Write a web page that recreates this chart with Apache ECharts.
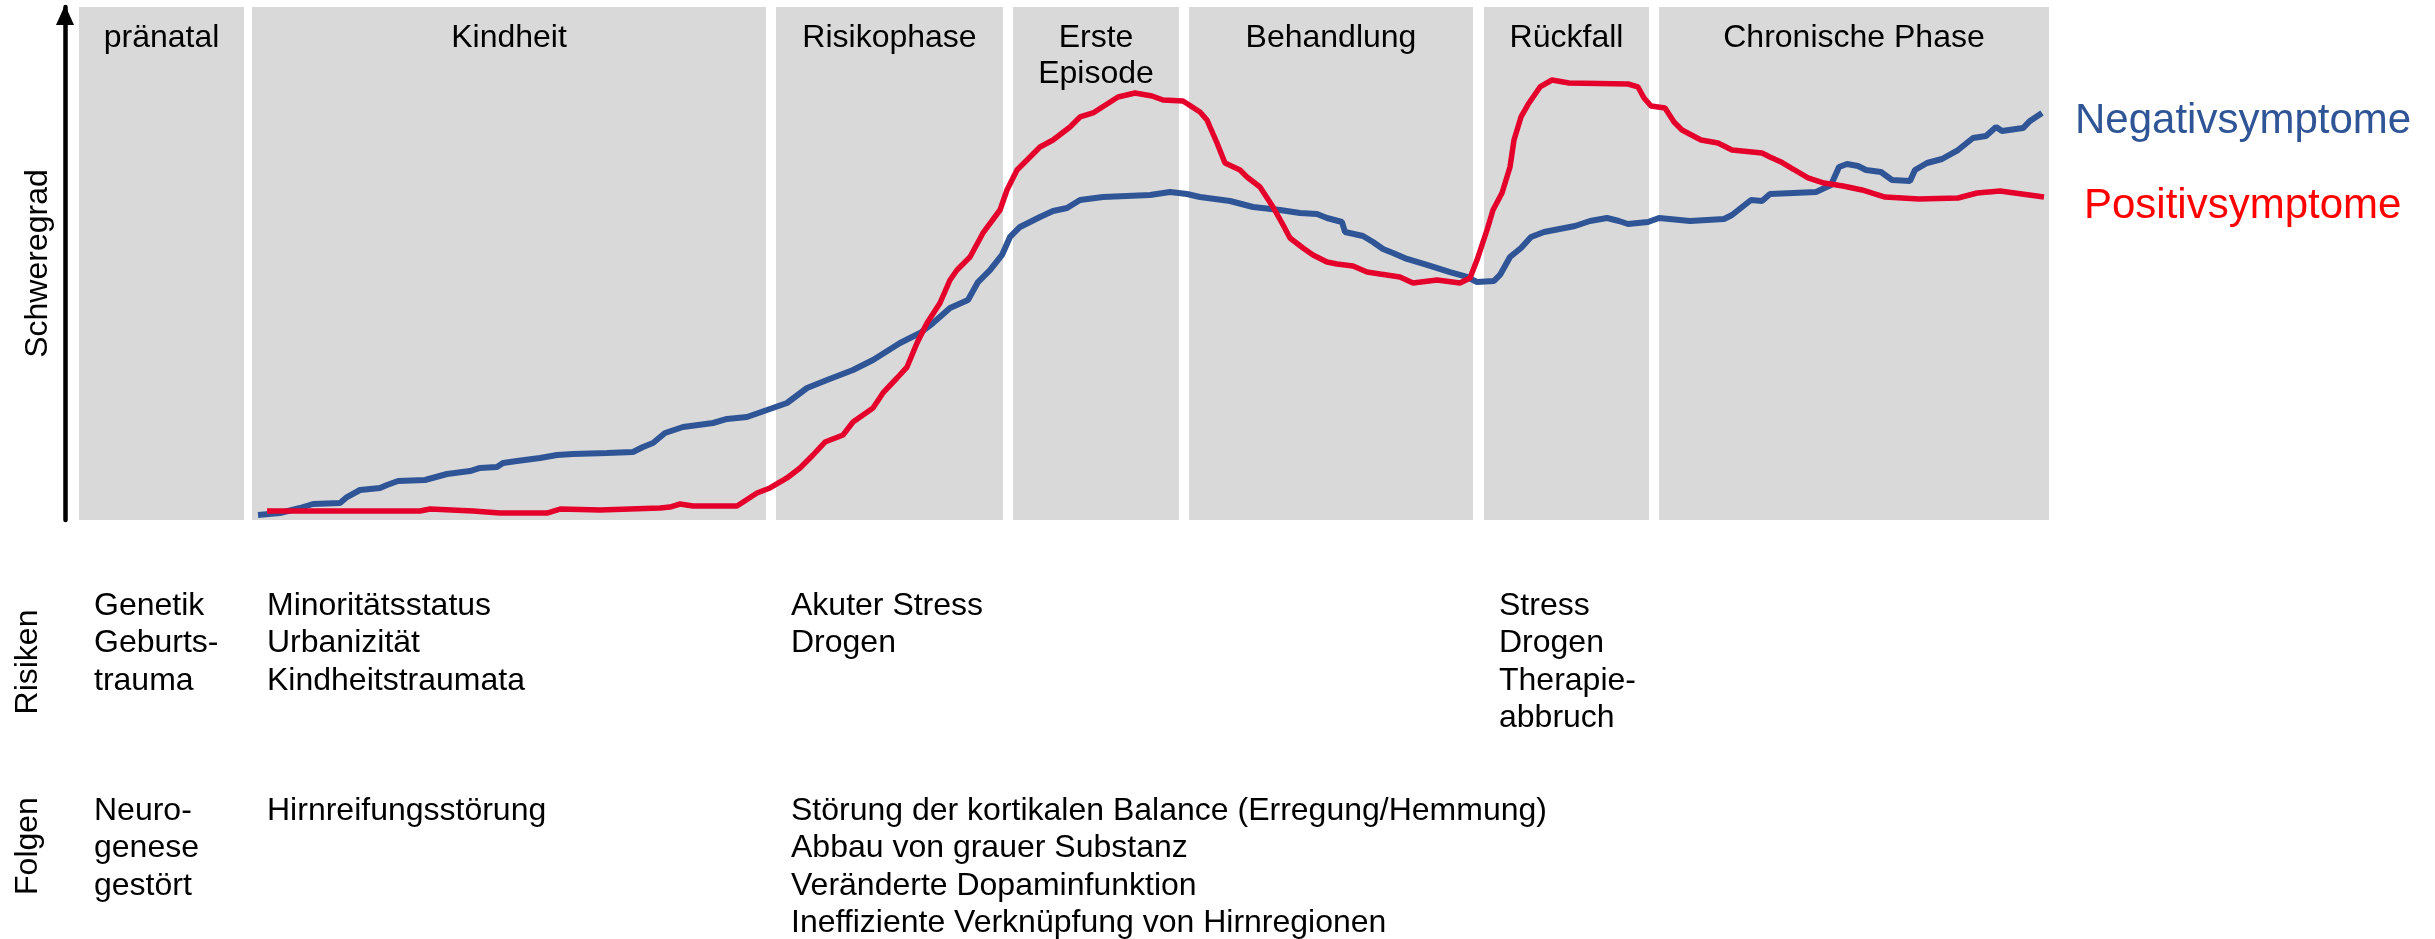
<!DOCTYPE html>
<html>
<head>
<meta charset="utf-8">
<script src="https://cdn.jsdelivr.net/npm/echarts@6/dist/echarts.min.js"></script>
<style>
html,body{margin:0;padding:0;background:#fff;}
#chart{width:2435px;height:939px;}
</style>
</head>
<body>
<div id="chart"></div>
<script>
// ---- data (time on a 0..197 scale, severity on a 0..100 scale) ----
const phases = ["pränatal", "Kindheit", "Risikophase", "Erste\nEpisode", "Behandlung", "Rückfall", "Chronische Phase"];
const phaseStart = [0, 17.3, 69.7, 93.4, 111, 140.5, 158];
const phaseEnd   = [16.5, 68.7, 92.4, 110, 139.4, 157, 197];

const negativ = [
 [17.9,0.97],[20.1,1.36],[22.1,2.34],[23.4,3.12],[26.1,3.31],[26.8,4.48],[28.1,5.85],[30.1,6.24],[30.8,6.82],[31.9,7.6],
 [34.6,7.8],[36.8,8.97],[39.1,9.55],[40.1,10.14],[41.8,10.33],[42.4,11.11],[43.8,11.5],[46.1,12.09],[47.8,12.67],[49.4,12.87],
 [52.8,13.06],[55.4,13.26],[56.4,14.23],[57.4,15.01],[58.6,16.96],[60.4,18.13],[63.4,18.91],[64.8,19.69],[66.8,20.08],[68.8,21.44],
 [70.8,22.81],[72.8,25.73],[74.8,27.29],[77.4,29.24],[79.4,31.19],[82.1,34.5],[84.1,36.45],[85.4,38.4],[87.1,41.33],[88.9,42.88],
 [89.9,46.39],[91.1,48.73],[92.3,51.66],[93.1,55.17],[94.1,57.12],[96.1,59.06],[97.4,60.23],[98.8,60.82],[100.1,62.38],[102.4,62.96],
 [107.1,63.35],[109.1,63.94],[110.8,63.55],[112.1,62.96],[115.1,62.18],[117.4,61.01],[120.1,60.43],[122.1,59.84],[123.8,59.65],[124.8,58.87],
 [126.3,58.09],[126.6,56.14],[128.4,55.36],[129.4,54.19],[130.4,52.83],[131.4,52.05],[132.8,50.88],[134.8,49.71],[137.1,48.34],[138.8,47.37],
 [139.8,46.39],[141.5,46.59],[142.1,47.76],[143.1,51.27],[144.2,53.02],[145.2,55.17],[146.5,56.14],[149.6,57.31],[151.1,58.28],[152.8,58.87],
 [154.0,58.28],[154.9,57.7],[156.9,58.09],[158.0,58.87],[161.1,58.28],[164.5,58.67],[165.3,59.45],[167.2,62.38],[168.3,62.18],[169.1,63.55],
 [173.7,63.94],[175.2,65.3],[176.0,68.81],[176.8,69.4],[177.9,69.01],[178.7,68.23],[180.2,67.84],[181.3,66.28],[183.1,66.08],[183.6,68.23],
 [184.8,69.59],[186.3,70.37],[187.9,72.12],[189.4,74.46],[190.7,74.85],[191.7,76.61],[192.3,75.83],[194.4,76.41],[195.1,77.78],[196.3,79.34]
];

const positiv = [
 [18.8,1.75],[34.1,1.75],[35.1,2.14],[39.4,1.75],[42.1,1.36],[46.8,1.36],[48.1,2.14],[52.1,1.95],[58.1,2.34],[59.1,2.53],
 [60.1,3.12],[61.4,2.73],[65.8,2.73],[67.8,5.26],[69.1,6.24],[70.8,8.19],[72.1,10.14],[73.4,12.67],[74.6,15.2],[76.4,16.57],
 [77.4,19.1],[79.4,21.83],[80.4,24.76],[81.8,27.68],[82.8,29.82],[83.8,34.5],[84.8,38.4],[86.1,42.3],[87.1,46.78],[87.8,48.73],
 [89.1,51.27],[90.4,55.95],[92.1,60.43],[92.8,64.33],[93.8,68.23],[96.1,72.71],[97.4,74.07],[99.1,76.61],[100.1,78.56],[101.4,79.34],
 [103.9,82.46],[105.6,83.24],[107.3,82.65],[108.4,81.87],[110.4,81.68],[112.1,79.53],[112.8,77.97],[113.8,73.49],[114.6,69.59],[116.1,68.23],
 [116.8,66.86],[118.1,64.91],[119.4,61.01],[120.3,57.89],[121.1,54.97],[122.4,53.02],[123.4,51.66],[124.8,50.29],[125.8,49.9],[127.4,49.51],
 [128.8,48.34],[130.1,47.95],[132.1,47.37],[133.4,46.2],[135.8,46.78],[138.1,46.2],[139.1,47.17],[139.8,50.68],[140.8,56.53],[141.4,60.43],
 [142.3,63.74],[143.1,68.81],[143.5,74.07],[144.2,78.56],[145.0,81.29],[146.1,84.41],[147.3,85.77],[149.0,85.19],[154.9,84.99],[155.9,84.41],
 [156.5,82.26],[157.2,80.7],[158.6,80.31],[159.5,77.58],[160.3,76.02],[162.2,74.07],[163.9,73.49],[165.3,72.12],[168.3,71.54],[169.1,70.76],
 [170.2,69.79],[171.4,68.42],[172.9,66.67],[174.5,65.69],[176.4,65.11],[178.3,64.33],[180.6,62.96],[184.0,62.57],[187.9,62.77],[189.8,63.74],
 [192.1,64.13],[194.3,63.55],[196.5,62.96]
];

const risiken = [
 ["Genetik", "Geburts-", "trauma"],
 ["Minoritätsstatus", "Urbanizität", "Kindheitstraumata"],
 ["Akuter Stress", "Drogen"],
 [], [],
 ["Stress", "Drogen", "Therapie-", "abbruch"],
 []
];
const folgen = [
 ["Neuro-", "genese", "gestört"],
 ["Hirnreifungsstörung"],
 ["Störung der kortikalen Balance (Erregung/Hemmung)", "Abbau von grauer Substanz", "Veränderte Dopaminfunktion", "Ineffiziente Verknüpfung von Hirnregionen"],
 [], [], [], []
];
const rowLabels = ["Risiken", "Folgen"];
const yAxisName = "Schweregrad";
const seriesNames = ["Negativsymptome", "Positivsymptome"];

// ---- chart ----
const FONT = '"Liberation Sans", Arial, sans-serif';
const chart = echarts.init(document.getElementById('chart'), null, {renderer: 'canvas'});

const option = {
  animation: false,
  backgroundColor: '#ffffff',
  grid: {left: 79, right: 386, top: 7, bottom: 419},
  xAxis: {type: 'value', min: 0, max: 197, show: false},
  yAxis: {
    type: 'value', min: 0, max: 100, offset: 14,
    axisLine: {show: true, onZero: false, lineStyle: {color: '#000', width: 4.5}, symbol: ['none', 'triangle'], symbolSize: [18, 20], symbolOffset: [0, -8]},
    axisTick: {show: false}, axisLabel: {show: false}, splitLine: {show: false},
    name: yAxisName, nameLocation: 'middle', nameGap: 11,
    nameTextStyle: {fontSize: 32, color: '#000', fontFamily: FONT}
  },
  series: [
    {
      type: 'line', name: 'phases', data: [], z: 1, silent: true,
      markArea: {
        silent: true,
        itemStyle: {color: '#d9d9d9'},
        label: {show: true, position: 'insideTop', distance: 13, fontSize: 32, lineHeight: 36, color: '#000', fontFamily: FONT},
        data: phases.map((p, i) => [{xAxis: phaseStart[i], name: p}, {xAxis: phaseEnd[i]}])
      }
    },
    {
      type: 'line', name: seriesNames[0], data: negativ, showSymbol: false, z: 3,
      lineStyle: {color: '#2f5597', width: 6}, itemStyle: {color: '#2f5597'},
      endLabel: {show: true, formatter: '{a}', color: '#2f5597', fontSize: 42, fontFamily: FONT, distance: 33, offset: [0, 8]}
    },
    {
      type: 'line', name: seriesNames[1], data: positiv, showSymbol: false, z: 4,
      lineStyle: {color: '#e4002b', width: 5.5}, itemStyle: {color: '#e4002b'},
      endLabel: {show: true, formatter: '{a}', color: '#ff0000', fontSize: 42, fontFamily: FONT, distance: 40, offset: [0, 9]}
    }
  ]
};
chart.setOption(option);

// ---- lower annotation rows, anchored to the phase positions on the x axis ----
function buildGraphics() {
  const els = [];
  const rows = [risiken, folgen];
  const rowTop = [587, 792];
  const rowCenter = [662, 846];
  rows.forEach((row, r) => {
    els.push({
      type: 'text', x: 28, y: rowCenter[r], rotation: Math.PI / 2,
      style: {text: rowLabels[r], font: '32px ' + FONT, fill: '#000', align: 'center', verticalAlign: 'middle'}
    });
    row.forEach((lines, i) => {
      if (!lines.length) return;
      const px = chart.convertToPixel({xAxisIndex: 0}, phaseStart[i]) + 15;
      els.push({
        type: 'text', x: px, y: rowTop[r],
        style: {text: lines.join('\n'), font: '32px ' + FONT, fill: '#000', lineHeight: 37.5, align: 'left', verticalAlign: 'top'}
      });
    });
  });
  chart.setOption({graphic: els});
}
buildGraphics();
</script>
</body>
</html>
